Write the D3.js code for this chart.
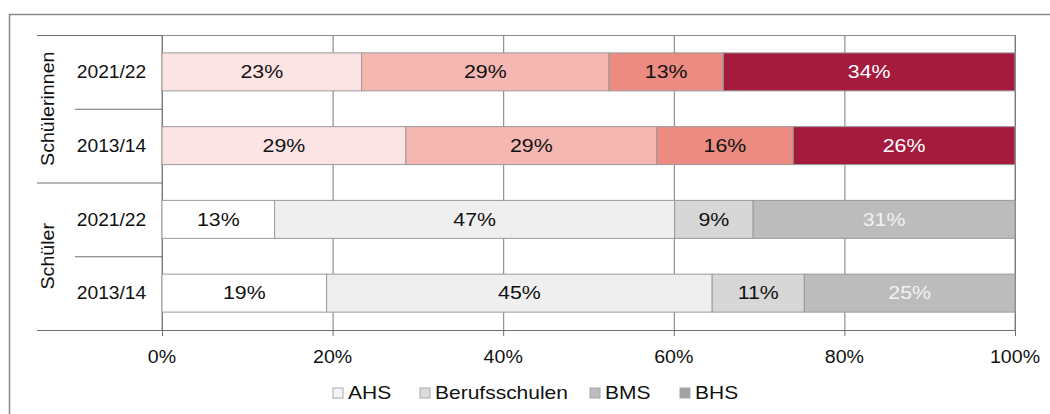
<!DOCTYPE html>
<html><head><meta charset="utf-8">
<script src="https://cdn.jsdelivr.net/npm/d3@7"></script>
<style>body{margin:0;background:#fff}svg{display:block}text{font-family:"Liberation Sans",Arial,sans-serif}</style>
</head><body><svg id="c" width="1050" height="414"></svg>
<script>
const schoolTypes = ["AHS", "Berufsschulen", "BMS", "BHS"];
const groups = ["Schülerinnen", "Schüler"];
const years = ["2021/22", "2013/14"];
const rowKeys = ["Schülerinnen|2021/22", "Schülerinnen|2013/14", "Schüler|2021/22", "Schüler|2013/14"];
const femaleRecent = [23.4, 29.0, 13.4, 34.2];
const femaleOld = [28.6, 29.4, 16.0, 26.0];
const maleRecent = [13.2, 46.9, 9.2, 30.7];
const maleOld = [19.3, 45.2, 10.8, 24.7];
const valueLabels = [["23%","29%","13%","34%"],["29%","29%","16%","26%"],["13%","47%","9%","31%"],["19%","45%","11%","25%"]];
const xTicks = [0, 20, 40, 60, 80, 100];
const femaleColors = ["#fce3e4", "#f4b7b2", "#ec8b82", "#a51b3d"];
const maleColors = ["#ffffff", "#efefef", "#d7d7d7", "#bcbcbc"];
const legendColors = ["#f4f4f4", "#dcdcdc", "#bdbdbd", "#a3a3a3"];
const femaleText = ["#111", "#111", "#111", "#fff"];
const maleText = ["#111", "#111", "#111", "#f2f2f2"];

const rows = [femaleRecent, femaleOld, maleRecent, maleOld];
const svg = d3.select("#c");
const L = 162, R = 1015, T = 35, B = 330;

function label(parent, tx, ty, str, opts) {
  const o = Object.assign({size:17.5, sx:1.15, anchor:"middle", fill:"#111", rot:0, dy:"0.36em"}, opts||{});
  return parent.append("text")
    .attr("transform", `translate(${tx},${ty}) rotate(${o.rot}) scale(${o.sx},1)`)
    .attr("text-anchor", o.anchor).attr("dy", o.dy).attr("font-size", o.size)
    .attr("fill", o.fill).text(str);
}

// outer frame
svg.append("path").attr("d", "M9.5,420 V14.5 H1050").attr("fill","none").attr("stroke","#8a8a8a").attr("stroke-width",1.5);

const x = d3.scaleLinear().domain([0,100]).range([L,R]);
const y = d3.scaleBand().domain(rowKeys).range([T,B]).paddingInner(0.485).paddingOuter(0.2425);

// plot border + grid
svg.append("rect").attr("x",L).attr("y",T+0.5).attr("width",R-L).attr("height",B-T).attr("fill","none").attr("stroke","#8c8c8c").attr("stroke-width",1);
svg.append("g").selectAll("line").data(xTicks).join("line")
  .attr("x1",d=>x(d)+0.5).attr("x2",d=>x(d)+0.5).attr("y1",T).attr("y2",B)
  .attr("stroke","#7a7a7a").attr("stroke-width",1);

// bars
rows.forEach((vals,i)=>{
  const stack = d3.cumsum(vals);
  const female = i < 2;
  const g = svg.append("g");
  vals.forEach((v,j)=>{
    const x0 = x(stack[j]-v), x1 = x(stack[j]);
    g.append("rect").attr("x",x0).attr("y",y(rowKeys[i])).attr("width",x1-x0).attr("height",y.bandwidth())
      .attr("fill",(female?femaleColors:maleColors)[j]).attr("stroke","#9a9a9a").attr("stroke-width",1);
    label(g, (x0+x1)/2, y(rowKeys[i])+y.bandwidth()/2, valueLabels[i][j],
      {fill:(female?femaleText:maleText)[j], sx:1.22});
  });
});

// x axis
const xa = svg.append("g").attr("transform",`translate(0,${B})`)
  .call(d3.axisBottom(x).tickValues(xTicks).tickFormat("").tickSize(6));
xa.select(".domain").remove();
xa.selectAll("line").attr("stroke","#6e6e6e");
xTicks.forEach(t=>label(svg, x(t), 357, t+"%", {sx:1.12}));
svg.append("line").attr("x1",37).attr("x2",R).attr("y1",B+0.5).attr("y2",B+0.5).attr("stroke","#6e6e6e").attr("stroke-width",1.2);

// category axis lines
const step = y.step();
const bounds = [T, T+step, T+2*step, T+3*step];
[[37,0],[75,1],[37,2],[75,3]].forEach(([x0,k])=>{
  svg.append("line").attr("x1",x0).attr("x2",L).attr("y1",bounds[k]+0.5).attr("y2",bounds[k]+0.5)
    .attr("stroke","#6e6e6e").attr("stroke-width",1.2);
});
rowKeys.forEach(k=>{
  label(svg, 111.5, y(k)+y.bandwidth()/2, k.split("|")[1], {sx:1.1});
});
groups.forEach((gname,i)=>{
  const cy = T + step*(2*i+1);
  label(svg, 48, cy, gname, {rot:-90, sx:1.12});
});

// legend
const legendX = [333, 420, 590, 680];
const lg = svg.append("g");
schoolTypes.forEach((s,i)=>{
  lg.append("rect").attr("x",legendX[i]).attr("y",388).attr("width",10).attr("height",10)
    .attr("fill",legendColors[i]).attr("stroke","#a8a8a8").attr("stroke-width",1);
  label(lg, legendX[i]+15, 393, s, {anchor:"start", sx:1.2});
});
</script></body></html>
